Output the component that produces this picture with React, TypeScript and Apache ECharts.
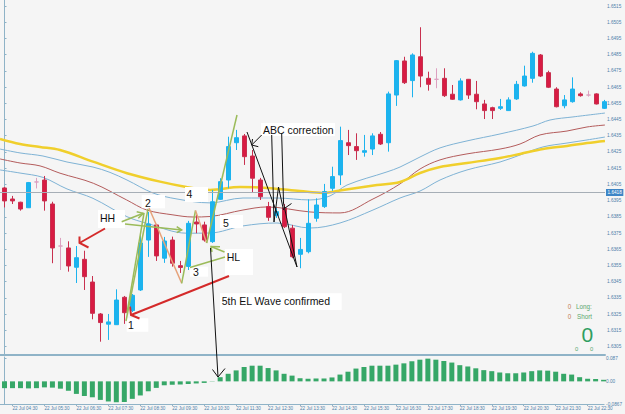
import React, { useEffect, useRef } from 'react';
import * as echarts from 'echarts';

// ---- data ----
const timeLabels = [
  '22 Jul 04:30', '22 Jul 05:30', '22 Jul 06:30', '22 Jul 07:30', '22 Jul 08:30',
  '22 Jul 09:30', '22 Jul 10:30', '22 Jul 11:30', '22 Jul 12:30', '22 Jul 13:30',
  '22 Jul 14:30', '22 Jul 15:30', '22 Jul 16:30', '22 Jul 17:30', '22 Jul 18:30',
  '22 Jul 19:30', '22 Jul 20:30', '22 Jul 21:30', '22 Jul 22:30'
];
const timeLabelBars = [1, 5, 9, 13, 17, 21, 25, 29, 33, 37, 41, 45, 49, 53, 57, 61, 65, 69, 73];

const priceTicks = [
  1.6305, 1.6315, 1.6325, 1.6335, 1.6345, 1.6355, 1.6365, 1.6375, 1.6385, 1.6395, 1.6405,
  1.6415, 1.6425, 1.6435, 1.6445, 1.6455, 1.6465, 1.6475, 1.6485, 1.6495, 1.6505, 1.6515
];
const bidPrice = 1.6418;
const histTicks = [0.087, 0, -0.0867];
const histTickLabels = ['0.087', '0.00', '-0.0867'];

const opens = [
  1.64028, 1.63960, 1.63940, 1.63906, 1.64065, 1.64077, 1.63929, 1.63670, 1.63658, 1.63539,
  1.63588, 1.63448, 1.63251, 1.63188, 1.63185, 1.63354, 1.63272, 1.63399, 1.63707, 1.63800,
  1.63595, 1.63707, 1.63549, 1.63544, 1.63818, 1.63800, 1.63697, 1.63958, 1.64077, 1.64307,
  1.64349, 1.64225, 1.64077, 1.63913, 1.63858, 1.63905, 1.63780, 1.63619, 1.63635, 1.63841,
  1.63913, 1.64026, 1.64108, 1.64307, 1.64283, 1.64248, 1.64268, 1.64359, 1.64307, 1.64601,
  1.64811, 1.64690, 1.64837, 1.64704, 1.64698, 1.64704, 1.64606, 1.64571, 1.64698, 1.64606,
  1.64546, 1.64523, 1.64519, 1.64505, 1.64577, 1.64657, 1.64704, 1.64848, 1.64739, 1.64638,
  1.64535, 1.64560, 1.64608, 1.64601, 1.64608, 1.64519
];
const closes = [
  1.63948, 1.63948, 1.63898, 1.64061, 1.64065, 1.63948, 1.63658, 1.63670, 1.63547, 1.63598,
  1.63481, 1.63255, 1.63198, 1.63202, 1.63337, 1.63259, 1.63366, 1.63689, 1.63806, 1.63609,
  1.63701, 1.63564, 1.63538, 1.63810, 1.63806, 1.63707, 1.63943, 1.64067, 1.64283, 1.64338,
  1.64221, 1.64088, 1.63974, 1.63847, 1.63882, 1.63789, 1.63604, 1.63649, 1.63810, 1.63923,
  1.64006, 1.64098, 1.64320, 1.64289, 1.64258, 1.64258, 1.64349, 1.64299, 1.64608, 1.64813,
  1.64677, 1.64848, 1.64718, 1.64667, 1.64698, 1.64597, 1.64575, 1.64688, 1.64601, 1.64560,
  1.64505, 1.64505, 1.64529, 1.64571, 1.64667, 1.64718, 1.64858, 1.64718, 1.64649, 1.64529,
  1.64571, 1.64638, 1.64597, 1.64601, 1.64546, 1.64560
];
const lows = [
  1.63908, 1.63929, 1.63888, 1.63905, 1.64025, 1.63888, 1.63564, 1.63522, 1.63512, 1.63442,
  1.63399, 1.63218, 1.63080, 1.63091, 1.63183, 1.63190, 1.63263, 1.63393, 1.63603, 1.63578,
  1.63566, 1.63543, 1.63504, 1.63522, 1.63749, 1.63697, 1.63689, 1.63954, 1.64026, 1.64262,
  1.64170, 1.63999, 1.63954, 1.63825, 1.63843, 1.63781, 1.63595, 1.63533, 1.63625, 1.63820,
  1.63905, 1.64010, 1.64046, 1.64231, 1.64201, 1.64221, 1.64231, 1.64293, 1.64252, 1.64534,
  1.64669, 1.64587, 1.64649, 1.64628, 1.64643, 1.64589, 1.64571, 1.64567, 1.64577, 1.64513,
  1.64453, 1.64453, 1.64509, 1.64503, 1.64571, 1.64653, 1.64677, 1.64712, 1.64644, 1.64525,
  1.64519, 1.64554, 1.64591, 1.64591, 1.64543, 1.64515
];
const highs = [
  1.64034, 1.63979, 1.63943, 1.64065, 1.64090, 1.64102, 1.63943, 1.63720, 1.63699, 1.63670,
  1.63641, 1.63485, 1.63257, 1.63251, 1.63403, 1.63362, 1.63374, 1.63757, 1.63880, 1.63806,
  1.63726, 1.63728, 1.63578, 1.63825, 1.63862, 1.63820, 1.64016, 1.64088, 1.64344, 1.64386,
  1.64361, 1.64262, 1.64090, 1.63942, 1.63905, 1.63929, 1.63800, 1.63720, 1.63958, 1.63964,
  1.64053, 1.64159, 1.64406, 1.64386, 1.64365, 1.64355, 1.64365, 1.64373, 1.64622, 1.64817,
  1.64837, 1.64858, 1.65019, 1.64745, 1.64766, 1.64766, 1.64663, 1.64704, 1.64700, 1.64688,
  1.64571, 1.64529, 1.64577, 1.64587, 1.64688, 1.64782, 1.64868, 1.64854, 1.64751, 1.64649,
  1.64601, 1.64710, 1.64618, 1.64628, 1.64612, 1.64571
];

const histogram = [
  -0.026, -0.026, -0.026, -0.027, -0.026, -0.023, -0.024, -0.028, -0.036, -0.048,
  -0.056, -0.061, -0.071, -0.077, -0.080, -0.079, -0.067, -0.054, -0.038, -0.025,
  -0.015, -0.013, -0.012, -0.010, -0.008, -0.006, 0.001, 0.016, 0.029, 0.042,
  0.055, 0.060, 0.060, 0.051, 0.042, 0.029, 0.022, 0.012, 0.010, 0.011,
  0.011, 0.015, 0.026, 0.037, 0.049, 0.055, 0.060, 0.060, 0.060, 0.064,
  0.069, 0.077, 0.083, 0.087, 0.083, 0.078, 0.072, 0.062, 0.057, 0.050,
  0.043, 0.039, 0.034, 0.031, 0.031, 0.034, 0.039, 0.042, 0.041, 0.037,
  0.029, 0.026, 0.016, 0.010, 0.009, 0.006
];

// moving averages / bands: [bar index, price]
const maYellow = [
  [-0.56, 1.64330], [1.94, 1.64299], [4.44, 1.64281], [6.94, 1.64262], [11.06, 1.64190],
  [15.31, 1.64119], [19.44, 1.64067], [22.56, 1.64036], [25.69, 1.64016],
  [29.44, 1.64034], [32.81, 1.64028], [36.94, 1.64009], [39.81, 1.63997], [42.31, 1.64016],
  [46.56, 1.64046], [49.44, 1.64065], [51.94, 1.64120], [54.44, 1.64157], [57.81, 1.64182],
  [61.94, 1.64213], [64.44, 1.64238], [67.31, 1.64268], [70.31, 1.64287], [72.81, 1.64305],
  [75.06, 1.64318]
];
const bandUpper = [
  [-0.56, 1.64268], [1.94, 1.64244], [4.81, 1.64225], [7.81, 1.64188], [11.06, 1.64157],
  [13.19, 1.64124], [15.31, 1.64077], [18.56, 1.63997], [21.56, 1.63960], [25.69, 1.63936],
  [29.81, 1.63966], [34.06, 1.63966], [38.19, 1.63954], [40.69, 1.63979], [42.81, 1.64046],
  [47.81, 1.64127], [49.44, 1.64157], [51.94, 1.64219], [54.44, 1.64275], [57.81, 1.64318],
  [61.94, 1.64361], [66.06, 1.64410], [68.19, 1.64447], [71.06, 1.64466], [75.06, 1.64490]
];
const bandMiddle = [
  [-0.56, 1.64207], [1.94, 1.64182], [4.44, 1.64164], [6.94, 1.64119], [11.1, 1.64057],
  [15.27, 1.63954], [17.78, 1.63892], [21.06, 1.63862], [23.56, 1.63849],
  [25.69, 1.63852], [29.81, 1.63892], [32.81, 1.63911], [38.19, 1.63880], [41.94, 1.63874],
  [46.06, 1.63960], [49.44, 1.64053], [51.94, 1.64145], [54.44, 1.64201], [57.81, 1.64238],
  [61.94, 1.64268], [64.44, 1.64299], [66.94, 1.64355], [70.31, 1.64379], [72.81, 1.64404],
  [75.06, 1.64416]
];
const bandLower = [
  [-0.56, 1.64139], [1.94, 1.64120], [4.81, 1.64093], [7.81, 1.64022], [11.06, 1.63964],
  [15.31, 1.63851], [17.81, 1.63810], [22.81, 1.63749], [25.69, 1.63750], [29.81, 1.63794],
  [34.06, 1.63812], [38.19, 1.63781], [41.94, 1.63812], [46.06, 1.63892], [49.44, 1.63966],
  [51.94, 1.64009], [54.44, 1.64077], [57.81, 1.64139], [61.94, 1.64188], [64.44, 1.64231],
  [67.31, 1.64281], [70.31, 1.64305], [72.81, 1.64324], [75.06, 1.64342]
];

// ---- styles ----
const BG = '#f5f5f5';
const AXIS = '#8fb3c7';
const AXIS_TEXT = '#4f80aa';
const UP = '#1cb3ee';
const DOWN = '#d81b43';
const DOJI = '#dca0c0';
const FONT = '"Liberation Sans", Arial, sans-serif';

const box = (x: number, y: number, w: number, h: number) => ({
  type: 'rect', shape: { x, y, width: w, height: h }, style: { fill: '#ffffff' }, z: 50
});
const label = (text: string, x: number, y: number, size = 10.5, fill = '#111111') => ({
  type: 'text', x, y, z: 53,
  style: { text, fill, font: `${size}px ${FONT}`, textVerticalAlign: 'middle' }
});
const seg = (points: number[][], stroke: string, lineWidth: number) => ({
  type: 'polyline', shape: { points }, z: 52,
  style: { stroke, lineWidth, fill: null, lineJoin: 'miter' }
});

const RED = '#d42a2a';
const GREEN = '#9bbb59';
const ORANGE = '#e6a27a';
const BLACK = '#111111';

const annotations = [
  // white label boxes
  box(261, 123, 74, 13), box(98, 210, 27, 18), box(141.7, 195, 23.3, 13.3),
  box(185, 187, 23, 15), box(220, 215, 23, 13), box(190, 266.7, 18, 10),
  box(126.7, 318.3, 21.6, 13.4), box(225, 249, 28, 26), box(220, 293.3, 121.7, 16.7),
  // red arrows
  seg([[105, 228.5], [79.5, 243]], RED, 2),
  seg([[79.5, 236.5], [79.5, 243], [88.5, 247.5]], RED, 2),
  seg([[229, 276], [131, 315]], RED, 2),
  seg([[130, 306.5], [131, 315], [139.5, 318.5]], RED, 2),
  // wave lines
  seg([[127, 313], [144, 213]], GREEN, 1.5),
  seg([[126, 321], [148, 209]], GREEN, 1.5),
  seg([[149, 208], [181.7, 283.3]], ORANGE, 1.5),
  seg([[181.7, 283.3], [195.5, 210.5]], GREEN, 1.5),
  seg([[195.5, 210.5], [206.7, 243]], ORANGE, 1.5),
  seg([[206.7, 243], [237, 115]], GREEN, 1.5),
  // green arrows (HH / HL)
  seg([[121.7, 221.7], [143.3, 213.3]], GREEN, 1.5),
  seg([[136.7, 211.7], [143.3, 213.3], [138.3, 218.3]], GREEN, 1.5),
  seg([[125, 224], [181.7, 230]], GREEN, 1.5),
  seg([[176.7, 226.7], [181.7, 230], [176.7, 232.7]], GREEN, 1.5),
  seg([[190, 267.5], [225, 257]], GREEN, 1.5),
  seg([[224.5, 252], [211, 246.5]], GREEN, 1.5),
  seg([[220, 246.7], [211, 246.5], [212, 252]], GREEN, 1.5),
  // black lines
  seg([[210.5, 248], [218, 377]], BLACK, 1),
  seg([[212.5, 369.5], [218, 377], [225, 368.5]], BLACK, 1),
  seg([[247, 132], [297, 267]], BLACK, 1),
  seg([[271.7, 135], [274, 222]], BLACK, 1),
  seg([[281.7, 134], [283.5, 203], [297, 267]], BLACK, 1),
  seg([[274, 222], [278.5, 187], [283.5, 210]], BLACK, 1),
  seg([[261.7, 135], [251.7, 145]], BLACK, 1),
  seg([[252.5, 139], [251.7, 145], [258.3, 146.7]], BLACK, 1),
  seg([[285, 208], [291.5, 203.5]], BLACK, 1),
  // texts
  label('ABC correction', 263, 129.5),
  label('HH', 100, 217.5),
  label('2', 145, 202.5),
  label('4', 186.5, 194),
  label('5', 223, 222.5),
  label('3', 193, 272),
  label('1', 128, 325.3),
  label('HL', 226.7, 256.5),
  label('5th EL Wave confirmed', 221.7, 300.5),
  // position panel
  label('0', 567.8, 306.8, 6.3, '#c07a55'),
  label('Long:', 576, 306.8, 6.3, '#5aa870'),
  label('0', 567.8, 316.5, 6.3, '#c07a55'),
  label('Short', 577, 316.5, 6.3, '#5aa870'),
  label('0', 581.5, 334.5, 21, '#2f9e60'),
  label('0', 575, 348.5, 5.8, '#5aa870'),
  label('0', 590, 348.5, 5.8, '#5aa870')
];

export default function App() {
  const ref = useRef<HTMLDivElement>(null);
  useEffect(() => {
    const chart = echarts.init(ref.current as HTMLDivElement, null, { renderer: 'svg' });
    const candleData = opens.map((o, i) => {
      const v = [i, o, closes[i], lows[i], highs[i]];
      if (o === closes[i]) {
        return { value: v, itemStyle: { color: DOJI, color0: DOJI, borderColor: DOJI, borderColor0: DOJI } };
      }
      return v;
    });
    const xMin = -0.5625;
    const xMax = 75.0625;
    const lineSeries = (data: number[][], color: string, width: number) => ({
      type: 'line', xAxisIndex: 0, yAxisIndex: 0, data, showSymbol: false, smooth: 0.35,
      lineStyle: { color, width }, z: 1, silent: true
    });
    const option: any = {
      animation: false,
      backgroundColor: BG,
      textStyle: { fontFamily: FONT },
      grid: [
        { left: 0, top: 0, width: 605, height: 355 },
        { left: 0, top: 357, width: 605, height: 47 }
      ],
      xAxis: [
        {
          type: 'value', gridIndex: 0, min: xMin, max: xMax,
          axisLine: { show: true, onZero: false, lineStyle: { color: AXIS, width: 2 } },
          axisTick: { show: false }, axisLabel: { show: false }, splitLine: { show: false }
        },
        {
          type: 'value', gridIndex: 1, min: xMin, max: xMax,
          axisLine: { show: true, onZero: false, lineStyle: { color: AXIS, width: 1 } },
          axisTick: { show: true, length: 2, customValues: timeLabelBars, lineStyle: { color: AXIS } },
          axisLabel: {
            show: true, customValues: timeLabelBars, align: 'left', margin: 2,
            fontSize: 4.6, color: AXIS_TEXT, fontFamily: FONT,
            formatter: (v: number) => timeLabels[timeLabelBars.indexOf(Math.round(v))] || ''
          },
          splitLine: { show: false }
        }
      ],
      yAxis: [
        {
          type: 'value', gridIndex: 0, position: 'right', min: 1.62998, max: 1.65187,
          axisLine: { show: true, lineStyle: { color: AXIS, width: 1 } },
          axisTick: { show: true, length: 2, customValues: priceTicks, lineStyle: { color: AXIS } },
          axisLabel: {
            show: true, customValues: priceTicks, margin: 2, fontSize: 4.7, color: AXIS_TEXT,
            fontFamily: FONT, formatter: (v: number) => v.toFixed(4)
          },
          splitLine: { show: false }
        },
        {
          type: 'value', gridIndex: 1, position: 'right', min: -0.0867, max: 0.0933,
          axisLine: { show: true, lineStyle: { color: AXIS, width: 1 } },
          axisTick: { show: true, length: 2, customValues: histTicks, lineStyle: { color: AXIS } },
          axisLabel: {
            show: true, customValues: histTicks, margin: 2, fontSize: 4.7, color: AXIS_TEXT,
            fontFamily: FONT,
            formatter: (v: number) => {
              const idx = histTicks.findIndex((t) => Math.abs(t - v) < 1e-6);
              return idx >= 0 ? histTickLabels[idx] : '';
            }
          },
          splitLine: { show: false }
        }
      ],
      series: [
        lineSeries(bandUpper, '#7fb3d5', 1),
        lineSeries(bandMiddle, '#b45c5c', 1),
        lineSeries(bandLower, '#7fb3d5', 1),
        lineSeries(maYellow, '#f0cf2c', 2.5),
        {
          type: 'candlestick', xAxisIndex: 0, yAxisIndex: 0, barWidth: 5, z: 3,
          encode: { x: 0, y: [1, 2, 3, 4] },
          data: candleData,
          itemStyle: { color: UP, color0: DOWN, borderColor: UP, borderColor0: '#c8304f', borderWidth: 1 },
          markLine: {
            silent: true, symbol: ['none', 'none'], animation: false,
            data: [{ yAxis: bidPrice }],
            lineStyle: { color: '#a6aeb6', width: 1, type: 'solid' },
            label: {
              show: true, position: 'end', distance: 1, formatter: bidPrice.toFixed(4),
              backgroundColor: '#3d85c6', color: '#ffffff', fontSize: 4.7, padding: [1, 1.5],
              fontFamily: FONT
            }
          }
        },
        {
          type: 'bar', xAxisIndex: 1, yAxisIndex: 1, barWidth: 5,
          data: histogram.map((v, i) => [i, v]),
          itemStyle: { color: '#36a767' }
        }
      ],
      graphic: { elements: annotations }
    };
    chart.setOption(option);
    return () => chart.dispose();
  }, []);
  return (
    <div
      ref={ref}
      style={{ position: 'absolute', left: 0, top: 0, width: 625, height: 414, background: BG }}
    />
  );
}
